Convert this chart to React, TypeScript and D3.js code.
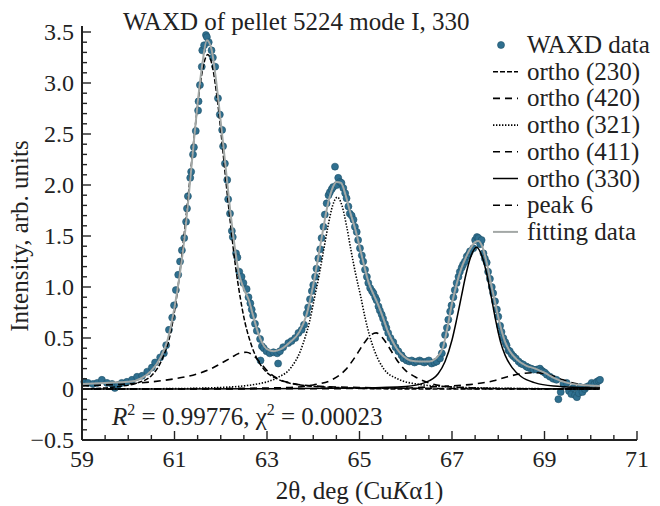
import React from "react";
import * as d3 from "d3";

// Measured WAXD intensities: [2θ (deg), intensity (arb. units)]
const waxdData: [number, number][] = [
  [59.05, 0.07], [59.13, 0.06], [59.24, 0.05], [59.33, 0.06], [59.43, 0.09], [59.54, 0.06],
  [59.65, 0.05], [59.71, 0.01], [59.78, 0.04], [59.86, 0.06], [59.97, 0.07], [60.08, 0.09],
  [60.19, 0.12], [60.3, 0.13], [60.41, 0.17], [60.51, 0.21], [60.58, 0.26], [60.69, 0.31],
  [60.77, 0.35], [60.82, 0.43], [60.88, 0.58], [60.95, 0.7], [60.99, 0.82], [61.03, 0.97],
  [61.08, 1.12], [61.12, 1.25], [61.16, 1.36], [61.21, 1.48], [61.25, 1.64], [61.27, 1.77],
  [61.29, 1.89], [61.34, 2.07], [61.36, 2.13], [61.4, 2.3], [61.42, 2.37], [61.46, 2.53],
  [61.51, 2.73], [61.52, 2.82], [61.55, 2.98], [61.59, 3.16], [61.6, 3.32], [61.64, 3.37],
  [61.68, 3.47], [61.7, 3.45], [61.74, 3.4], [61.8, 3.32], [61.83, 3.25], [61.88, 3.16],
  [61.94, 2.85], [61.98, 2.69], [62.03, 2.54], [62.05, 2.38], [62.09, 2.21], [62.14, 2.05],
  [62.16, 1.86], [62.2, 1.72], [62.24, 1.55], [62.26, 1.49], [62.33, 1.33], [62.36, 1.29],
  [62.4, 1.15], [62.45, 1.1], [62.49, 1.04], [62.56, 0.98], [62.6, 0.9], [62.64, 0.84],
  [62.67, 0.78], [62.7, 0.72], [62.74, 0.64], [62.78, 0.57], [62.85, 0.49], [62.86, 0.28],
  [62.89, 0.42], [62.93, 0.4], [62.99, 0.37], [63.06, 0.35], [63.14, 0.36], [63.22, 0.35],
  [63.24, 0.25], [63.28, 0.37], [63.35, 0.41], [63.46, 0.45], [63.53, 0.47], [63.61, 0.5],
  [63.68, 0.55], [63.75, 0.58], [63.8, 0.63], [63.86, 0.74], [63.89, 0.8], [63.93, 0.88],
  [63.97, 0.96], [64.0, 1.02], [64.04, 1.1], [64.07, 1.18], [64.11, 1.28], [64.15, 1.37],
  [64.18, 1.48], [64.22, 1.59], [64.25, 1.71], [64.29, 1.82], [64.33, 1.9], [64.36, 1.93],
  [64.4, 1.96], [64.43, 1.98], [64.47, 2.18], [64.51, 2.0], [64.54, 2.07], [64.58, 2.03],
  [64.61, 2.02], [64.65, 1.97], [64.69, 1.92], [64.72, 1.87], [64.76, 1.79], [64.79, 1.72],
  [64.83, 1.7], [64.87, 1.66], [64.9, 1.59], [64.94, 1.54], [64.97, 1.46], [65.01, 1.38],
  [65.05, 1.31], [65.08, 1.25], [65.12, 1.17], [65.16, 1.1], [65.19, 1.04], [65.23, 0.99],
  [65.27, 0.96], [65.3, 0.94], [65.34, 0.9], [65.37, 0.87], [65.41, 0.81], [65.44, 0.77],
  [65.48, 0.73], [65.51, 0.69], [65.55, 0.64], [65.58, 0.6], [65.62, 0.55], [65.67, 0.5],
  [65.73, 0.46], [65.78, 0.41], [65.84, 0.37], [65.91, 0.33], [65.95, 0.3], [66.02, 0.28],
  [66.08, 0.27], [66.13, 0.28], [66.19, 0.26], [66.24, 0.27], [66.3, 0.28], [66.34, 0.27],
  [66.4, 0.26], [66.45, 0.27], [66.5, 0.28], [66.56, 0.25], [66.62, 0.26], [66.67, 0.27],
  [66.74, 0.3], [66.78, 0.35], [66.81, 0.43], [66.85, 0.53], [66.89, 0.6], [66.92, 0.68],
  [66.96, 0.76], [66.99, 0.82], [67.03, 0.9], [67.06, 0.97], [67.1, 1.04], [67.14, 1.1],
  [67.17, 1.15], [67.21, 1.19], [67.24, 1.22], [67.28, 1.25], [67.32, 1.3], [67.36, 1.32],
  [67.39, 1.35], [67.46, 1.38], [67.5, 1.46], [67.54, 1.49], [67.57, 1.48], [67.61, 1.42],
  [67.64, 1.46], [67.68, 1.33], [67.71, 1.28], [67.75, 1.24], [67.78, 1.15], [67.82, 1.08],
  [67.86, 1.0], [67.89, 0.94], [67.93, 0.86], [67.97, 0.78], [68.0, 0.71], [68.04, 0.62],
  [68.07, 0.56], [68.11, 0.5], [68.15, 0.46], [68.18, 0.43], [68.22, 0.38], [68.25, 0.37],
  [68.29, 0.34], [68.33, 0.32], [68.38, 0.3], [68.44, 0.27], [68.49, 0.25], [68.54, 0.24],
  [68.61, 0.22], [68.65, 0.21], [68.71, 0.2], [68.76, 0.19], [68.83, 0.19], [68.9, 0.2],
  [68.94, 0.18], [68.97, 0.17], [69.01, 0.16], [69.05, 0.14], [69.12, 0.12], [69.19, 0.1],
  [69.26, 0.09], [69.3, -0.1], [69.35, -0.03], [69.41, 0.05], [69.48, 0.06], [69.53, -0.02],
  [69.58, -0.05], [69.62, 0.01], [69.66, -0.06], [69.7, -0.08], [69.74, -0.04], [69.77, 0.02],
  [69.82, -0.03], [69.87, 0.0], [69.91, 0.02], [69.96, 0.03], [70.02, 0.06], [70.08, 0.05],
  [70.13, 0.07], [70.17, 0.08], [70.2, 0.09],
];

// Fitted peak components
const ortho230: [number, number][] = [
  [59, 0.0], [59.7, 0.02], [60.2, 0.06], [60.5, 0.13], [60.72, 0.28], [60.92, 0.56],
  [61.02, 0.82], [61.12, 1.16], [61.22, 1.56], [61.32, 2.0], [61.42, 2.45], [61.52, 2.86],
  [61.62, 3.16], [61.72, 3.28], [61.82, 3.16], [61.92, 2.86], [62.02, 2.45], [62.12, 2.0],
  [62.22, 1.58], [62.32, 1.2], [62.42, 0.9], [62.52, 0.66], [62.62, 0.49], [62.72, 0.36],
  [62.92, 0.2], [63.22, 0.1], [63.72, 0.04], [64.5, 0.015], [66, 0.0], [70.2, 0.0],
];
const ortho420: [number, number][] = [
  [59, 0.03], [59.5, 0.04], [60, 0.05], [60.5, 0.07], [61, 0.1], [61.5, 0.15], [61.8, 0.2],
  [62.0, 0.25], [62.2, 0.3], [62.4, 0.35], [62.55, 0.36], [62.7, 0.33], [62.85, 0.26],
  [63.0, 0.18], [63.2, 0.11], [63.5, 0.06], [64, 0.03], [65, 0.015], [66, 0.008], [68, 0.003],
  [70.2, 0.0],
];
const ortho321: [number, number][] = [
  [59, 0.0], [61, 0.004], [62, 0.015], [62.8, 0.05], [63.22, 0.11], [63.52, 0.21],
  [63.72, 0.37], [63.82, 0.5], [63.92, 0.66], [64.02, 0.88], [64.12, 1.1], [64.22, 1.35],
  [64.32, 1.6], [64.42, 1.8], [64.52, 1.88], [64.62, 1.8], [64.72, 1.6], [64.82, 1.35],
  [64.92, 1.12], [65.02, 0.92], [65.12, 0.7], [65.22, 0.52], [65.32, 0.38], [65.52, 0.2],
  [65.82, 0.1], [66.22, 0.05], [67.0, 0.02], [68.0, 0.008], [70.2, 0.0],
];
const ortho411: [number, number][] = [
  [59, 0.0], [62, 0.005], [63.5, 0.015], [64.0, 0.04], [64.4, 0.09], [64.7, 0.19],
  [64.9, 0.31], [65.1, 0.45], [65.25, 0.53], [65.36, 0.55], [65.5, 0.5], [65.65, 0.4],
  [65.8, 0.29], [66.0, 0.18], [66.2, 0.12], [66.5, 0.06], [67.0, 0.02], [68.0, 0.005],
  [70.2, 0.0],
];
const ortho330: [number, number][] = [
  [59, 0.0], [63, 0.002], [65, 0.01], [66, 0.025], [66.4, 0.06], [66.7, 0.15], [66.85, 0.27],
  [67.0, 0.48], [67.1, 0.68], [67.2, 0.9], [67.3, 1.12], [67.4, 1.29], [67.53, 1.39],
  [67.65, 1.3], [67.75, 1.13], [67.85, 0.9], [67.95, 0.66], [68.05, 0.46], [68.15, 0.33],
  [68.3, 0.21], [68.5, 0.12], [68.8, 0.06], [69.2, 0.03], [70.2, 0.01],
];
const peak6: [number, number][] = [
  [59, 0.0], [64, 0.003], [66, 0.01], [66.5, 0.02], [67.0, 0.03], [67.5, 0.05], [67.9, 0.08],
  [68.2, 0.12], [68.5, 0.15], [68.8, 0.16], [69.1, 0.14], [69.4, 0.09], [69.7, 0.05],
  [70.2, 0.02],
];

// Total fitted profile
const fittingData: [number, number][] = [
  [59.0, 0.05], [59.5, 0.06], [60.0, 0.07], [60.3, 0.11], [60.5, 0.18], [60.7, 0.31],
  [60.85, 0.48], [61.0, 0.8], [61.1, 1.08], [61.2, 1.42], [61.3, 1.86], [61.4, 2.34],
  [61.5, 2.8], [61.6, 3.18], [61.7, 3.42], [61.8, 3.33], [61.9, 3.02], [62.0, 2.62],
  [62.1, 2.2], [62.2, 1.77], [62.3, 1.4], [62.4, 1.12], [62.5, 0.98], [62.6, 0.88],
  [62.7, 0.72], [62.8, 0.56], [62.9, 0.45], [63.0, 0.39], [63.15, 0.37], [63.3, 0.39],
  [63.5, 0.46], [63.7, 0.56], [63.85, 0.72], [64.0, 1.02], [64.1, 1.27], [64.2, 1.53],
  [64.3, 1.78], [64.4, 1.95], [64.5, 2.03], [64.6, 2.02], [64.7, 1.9], [64.8, 1.73],
  [64.9, 1.58], [65.0, 1.4], [65.1, 1.21], [65.2, 1.04], [65.3, 0.93], [65.4, 0.83],
  [65.5, 0.71], [65.6, 0.58], [65.7, 0.48], [65.8, 0.4], [65.95, 0.32], [66.1, 0.28],
  [66.3, 0.27], [66.5, 0.27], [66.65, 0.3], [66.8, 0.4], [66.9, 0.6], [67.0, 0.84],
  [67.1, 1.03], [67.2, 1.18], [67.3, 1.29], [67.4, 1.38], [67.5, 1.44], [67.57, 1.45],
  [67.65, 1.4], [67.75, 1.24], [67.85, 1.02], [67.95, 0.81], [68.05, 0.61], [68.15, 0.46],
  [68.25, 0.37], [68.4, 0.29], [68.6, 0.23], [68.8, 0.2], [69.0, 0.16], [69.2, 0.11],
  [69.5, 0.06], [69.8, 0.04], [70.2, 0.03],
];

const legendLabels = [
  "WAXD data", "ortho (230)", "ortho (420)", "ortho (321)", "ortho (411)",
  "ortho (330)", "peak 6", "fitting data",
];
const yTickLabels = ["\u22120.5", "0", "0.5", "1.0", "1.5", "2.0", "2.5", "3.0", "3.5"];
const xTickLabels = ["59", "61", "63", "65", "67", "69", "71"];

const W = 660;
const H = 506;
const FONT = "'Liberation Serif', 'Times New Roman', serif";
const DOT = "#2f6f8f";
const FIT = "#a3a8a6";

type Style = { dash: string | null; color: string; width: number };
const componentStyles: Style[] = [
  { dash: "5 2", color: "#000", width: 1.5 },
  { dash: "7 5", color: "#000", width: 1.6 },
  { dash: "1.4 1.6", color: "#000", width: 1.6 },
  { dash: "7 5", color: "#000", width: 1.6 },
  { dash: null, color: "#000", width: 1.5 },
  { dash: "7 5", color: "#000", width: 1.6 },
];
const components = [ortho230, ortho420, ortho321, ortho411, ortho330, peak6];

export default function App() {
  const x = d3.scaleLinear().domain([59, 71]).range([82, 637]);
  const y = d3.scaleLinear().domain([-0.5, 3.5]).range([440, 32]);
  const line = d3
    .line<[number, number]>()
    .x((d) => x(d[0]))
    .y((d) => y(d[1]))
    .curve(d3.curveMonotoneX);

  const yMinor = d3.range(-5, 36).map((i) => i / 10);
  const xMinor = d3.range(0, 25).map((i) => 59 + i * 0.5);
  const yMajor = d3.range(-0.5, 3.51, 0.5);
  const xMajor = d3.range(59, 71.01, 2);

  const legendX = 493;
  const legendRow = (i: number) => 45 + i * 26.7;

  return (
    <svg
      width={W}
      height={H}
      style={{ position: "absolute", left: 0, top: 0, background: "#fff" }}
      fontFamily={FONT}
    >
      <rect width={W} height={H} fill="#fff" />

      {/* data points */}
      {waxdData.map((d, i) => (
        <circle key={i} cx={x(d[0])} cy={y(d[1])} r={3.5} fill={DOT} stroke="#1e5068" strokeWidth={0.6} />
      ))}

      {/* peak components */}
      {components.map((c, i) => (
        <path
          key={i}
          d={line(c) || ""}
          fill="none"
          stroke={componentStyles[i].color}
          strokeWidth={componentStyles[i].width}
          strokeDasharray={componentStyles[i].dash || undefined}
        />
      ))}

      {/* fit */}
      <path d={line(fittingData) || ""} fill="none" stroke={FIT} strokeWidth={2} />

      {/* axes */}
      <line x1={x(59)} x2={x(59)} y1={y(-0.5)} y2={y(3.56)} stroke="#222" strokeWidth={2} />
      <line x1={x(59)} x2={x(71)} y1={y(-0.5)} y2={y(-0.5)} stroke="#222" strokeWidth={2} />
      {yMinor.map((v, i) => {
        const major = i % 5 === 0;
        return (
          <line key={"yt" + i} x1={x(59)} x2={x(59) + (major ? 9 : 5)} y1={y(v)} y2={y(v)} stroke="#222" strokeWidth={1.4} />
        );
      })}
      {xMinor.map((v, i) => {
        const major = i % 4 === 0;
        return (
          <line key={"xt" + i} x1={x(v)} x2={x(v)} y1={y(-0.5)} y2={y(-0.5) - (major ? 9 : 5)} stroke="#222" strokeWidth={1.4} />
        );
      })}
      {yMajor.map((v, i) => (
        <text key={"yl" + i} x={74} y={y(v) + 8} textAnchor="end" fontSize={24} fill="#222">
          {yTickLabels[i]}
        </text>
      ))}
      {xMajor.map((v, i) => (
        <text key={"xl" + i} x={x(v)} y={467} textAnchor="middle" fontSize={24} fill="#222">
          {xTickLabels[i]}
        </text>
      ))}

      {/* axis titles */}
      <text x={(x(59) + x(71)) / 2} y={499} textAnchor="middle" fontSize={25} fill="#222">
        2θ, deg (Cu<tspan fontStyle="italic">K</tspan>α1)
      </text>
      <text transform={`translate(28, ${(y(-0.5) + y(3.5)) / 2}) rotate(-90)`} textAnchor="middle" fontSize={25} fill="#222">
        Intensity, arb. units
      </text>

      {/* title */}
      <text x={123} y={30} fontSize={25} fill="#222">
        WAXD of pellet 5224 mode I, 330
      </text>

      {/* goodness of fit */}
      <text x={112} y={425} fontSize={25} fill="#222">
        <tspan fontStyle="italic">R</tspan>
        <tspan dy={-10} fontSize={16}>2</tspan>
        <tspan dy={10}> = 0.99776, χ</tspan>
        <tspan dy={-10} fontSize={16}>2</tspan>
        <tspan dy={10}> = 0.00023</tspan>
      </text>

      {/* legend */}
      {legendLabels.map((lab, i) => {
        const cy = legendRow(i);
        let sym: React.ReactNode;
        if (i === 0) {
          sym = <circle cx={501} cy={cy} r={3.5} fill={DOT} stroke="#1e5068" strokeWidth={0.6} />;
        } else if (i === legendLabels.length - 1) {
          sym = <line x1={legendX} x2={legendX + 25} y1={cy} y2={cy} stroke={FIT} strokeWidth={2} />;
        } else {
          const s = componentStyles[i - 1];
          sym = (
            <line x1={legendX} x2={legendX + 25} y1={cy} y2={cy} stroke={s.color} strokeWidth={s.width} strokeDasharray={s.dash || undefined} />
          );
        }
        return (
          <g key={"lg" + i}>
            {sym}
            <text x={527} y={cy + 8} fontSize={25} fill="#222">
              {lab}
            </text>
          </g>
        );
      })}
    </svg>
  );
}
